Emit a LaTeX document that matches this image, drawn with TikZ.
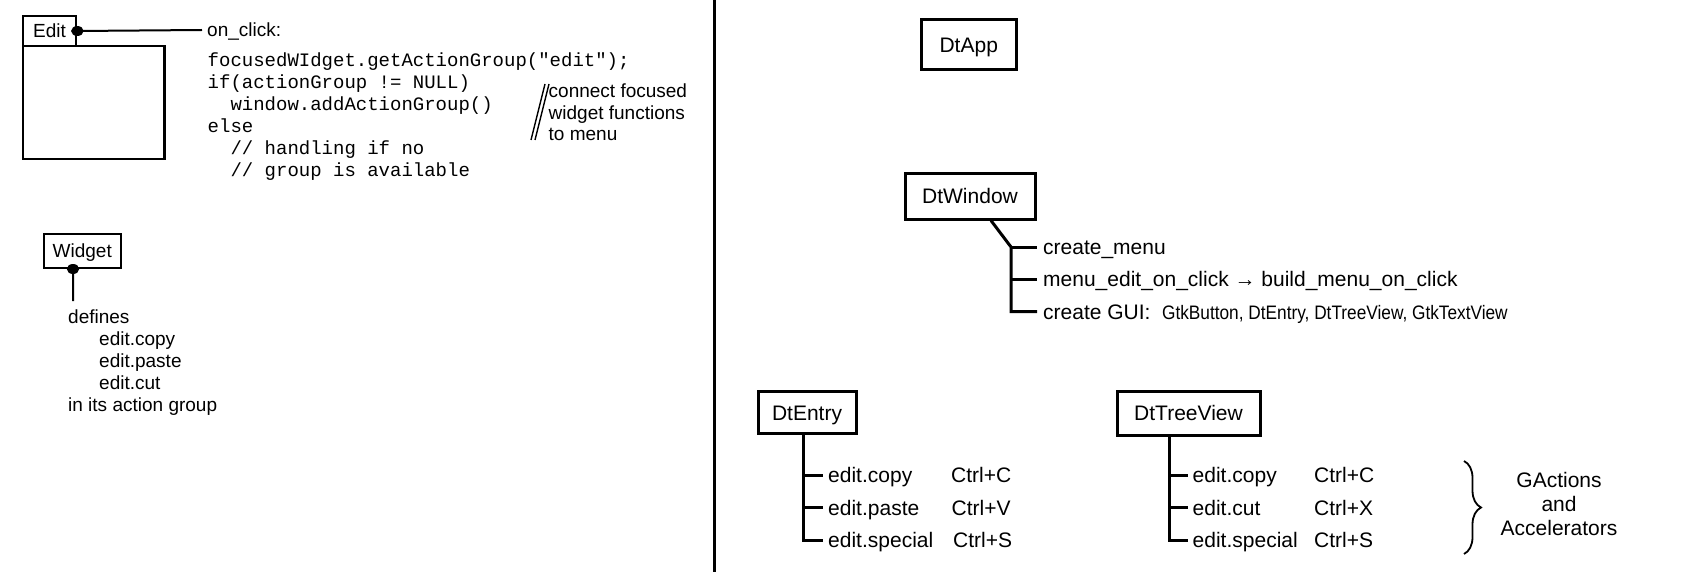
\documentclass[tikz,border=0pt]{standalone}
\usepackage{fontspec}
\usepackage{xcolor}
\setmainfont{Liberation Sans}
\setmonofont{Liberation Mono}
\newfontfamily\narrowfont[FakeStretch=0.885]{Liberation Sans}
\usetikzlibrary{shapes.geometric}
\usetikzlibrary{decorations.pathreplacing}
\definecolor{inkColor}{HTML}{000000}
\definecolor{paperColor}{HTML}{FFFFFF}
\def\smallFont{\fontsize{19bp}{22bp}\selectfont}
\def\bigFont{\fontsize{21bp}{24bp}\selectfont}
\def\codeFont{\ttfamily\fontsize{19bp}{22bp}\selectfont}
\def\listFont{\narrowfont\fontsize{19.5bp}{22bp}\selectfont}
\tikzset{
  boxNode/.style={draw=inkColor, line width=3bp, inner sep=0pt,
    text height=15bp, text depth=0pt, font=\bigFont},
  smallBoxNode/.style={draw=inkColor, line width=2.7bp, inner sep=0pt,
    text height=13.7bp, text depth=0pt, font=\smallFont},
  dotNode/.style={ellipse, fill=inkColor, inner sep=0pt,
    minimum width=12.5bp, minimum height=10bp},
  itemNode/.style={anchor=west, inner sep=0pt, text height=15bp,
    text depth=0pt, font=\bigFont},
  noteNode/.style={anchor=west, inner sep=0pt, text height=13.7bp,
    text depth=0pt, font=\smallFont},
  codeNode/.style={anchor=west, inner sep=0pt, text height=13.5bp,
    text depth=0pt, font=\codeFont},
  tagNode/.style={anchor=base, inner sep=0pt, font=\bigFont},
  treeLine/.style={draw=inkColor, line width=3bp},
  pinLine/.style={draw=inkColor, line width=2bp},
  slashLine/.style={draw=inkColor, line width=1.4bp},
  braceLine/.style={draw=inkColor, line width=1.8bp, decorate,
    decoration={brace, amplitude=17bp}},
}

\begin{document}
\begin{tikzpicture}[x=1bp,y=-1bp]
\useasboundingbox[fill=paperColor] (0,0) rectangle (1686,572);

% left pane
\begin{scope}
% edit button
\node[smallBoxNode, minimum width=53bp, minimum height=30bp] (edit) at (49.5, 31) {Edit};
\node[draw=inkColor, line width=2.7bp, minimum width=141.5bp, minimum height=113bp] (editArea) at (93.75, 102.5) {};
\node[noteNode] (onClick) at (207, 30) {on\_click:};
\draw[pinLine] (edit.east) -- ([xshift=-5bp]onClick.west);
\node[dotNode] (editDot) at (edit.east) {};

% handler code
\node[codeNode] (code1) at (207.5, 60.2) {focusedWIdget.getActionGroup("edit");};
\node[codeNode] (code2) at (207.5, 82.1) {if(actionGroup != NULL)};
\node[codeNode] (code3) at (207.5, 104.0) {\ \ window.addActionGroup()};
\node[codeNode] (code4) at (207.5, 125.9) {else};
\node[codeNode] (code5) at (207.5, 147.8) {\ \ // handling if no};
\node[codeNode] (code6) at (207.5, 169.7) {\ \ // group is available};

% side note
\draw[slashLine] (531, 140) -- (545, 84);
\draw[slashLine] (535, 140) -- (549, 84);
\node[noteNode] (note1) at (548.5, 90.3) {connect focused};
\node[noteNode] (note2) at (548.5, 112.2) {widget functions};
\node[noteNode] (note3) at (548.5, 134.1) {to menu};

% widget
\node[smallBoxNode, line width=2bp, minimum width=76.5bp, minimum height=34bp] (widget) at (82.25, 251) {Widget};
\coordinate (widgetPin) at (73, 301);
\draw[pinLine] ([xshift=-9.25bp]widget.south) -- (widgetPin);
\node[dotNode] (widgetDot) at ([xshift=-9.25bp]widget.south) {};
\node[noteNode] (defines) at (68, 317) {defines};
\node[noteNode] (wCopy) at (99, 339) {edit.copy};
\node[noteNode] (wPaste) at (99, 361) {edit.paste};
\node[noteNode] (wCut) at (99, 383) {edit.cut};
\node[noteNode] (inGroup) at (68, 405) {in its action group};
\end{scope}

% divider
\draw[line width=3bp, inkColor] (714.5, 0) -- (714.5, 572);

% right pane
\begin{scope}
% app and window
\node[boxNode, minimum width=95.5bp, minimum height=50bp] (dtApp) at (968.75, 45) {DtApp};
\node[boxNode, minimum width=130bp, minimum height=45.7bp] (dtWindow) at (970, 196.2) {DtWindow};
\node[itemNode] (createMenu) at (1043, 247) {create\_menu};
\node[itemNode] (menuEdit) at (1043, 279) {menu\_edit\_on\_click → build\_menu\_on\_click};
\node[itemNode] (createGui) at (1043, 311.5) {create GUI:\hspace{11.5bp}{\listFont GtkButton, DtEntry, DtTreeView, GtkTextView}};
\coordinate (windowJoint) at (1011, 247);
\draw[treeLine] ([xshift=21bp]dtWindow.south) -- (windowJoint) |- ([xshift=-6bp]createGui.west);
\draw[treeLine] (windowJoint) -- ([xshift=-6bp]createMenu.west);
\draw[treeLine] (windowJoint |- menuEdit.west) -- ([xshift=-6bp]menuEdit.west);

% entry
\node[boxNode, minimum width=98bp, minimum height=42bp] (dtEntry) at (807, 412.9) {DtEntry};
\node[itemNode] (eCopy) at (828, 475) {edit.copy};
\node[itemNode] (ePaste) at (828, 507.5) {edit.paste};
\node[itemNode] (eSpecial) at (828, 540) {edit.special};
\node[itemNode] (eCopyKey) at (951, 475) {Ctrl+C};
\node[itemNode] (ePasteKey) at (951.5, 507.5) {Ctrl+V};
\node[itemNode] (eSpecialKey) at (953, 540) {Ctrl+S};
\coordinate (entryTrunk) at ([xshift=-4bp]dtEntry.south);
\draw[treeLine] (entryTrunk) |- ([xshift=-5bp]eSpecial.west);
\draw[treeLine] (entryTrunk |- eCopy.west) -- ([xshift=-5bp]eCopy.west);
\draw[treeLine] (entryTrunk |- ePaste.west) -- ([xshift=-5bp]ePaste.west);

% tree view
\node[boxNode, minimum width=143bp, minimum height=44.5bp] (dtTreeView) at (1188.5, 413.4) {DtTreeView};
\node[itemNode] (tCopy) at (1192.5, 475) {edit.copy};
\node[itemNode] (tCut) at (1192.5, 507.5) {edit.cut};
\node[itemNode] (tSpecial) at (1192.5, 540) {edit.special};
\node[itemNode] (tCopyKey) at (1314, 475) {Ctrl+C};
\node[itemNode] (tCutKey) at (1314, 507.5) {Ctrl+X};
\node[itemNode] (tSpecialKey) at (1314, 540) {Ctrl+S};
\coordinate (treeTrunk) at ([xshift=-19.5bp]dtTreeView.south);
\draw[treeLine] (treeTrunk) |- ([xshift=-4.5bp]tSpecial.west);
\draw[treeLine] (treeTrunk |- tCopy.west) -- ([xshift=-4.5bp]tCopy.west);
\draw[treeLine] (treeTrunk |- tCut.west) -- ([xshift=-4.5bp]tCut.west);

% brace label
\draw[braceLine] (1464, 461) -- (1464, 554);
\node[tagNode] (tagA) at (1559, 487.5) {GActions};
\node[tagNode] (tagB) at (1559, 511.2) {and};
\node[tagNode] (tagC) at (1559, 535) {Accelerators};
\end{scope}
\end{tikzpicture}
\end{document}
